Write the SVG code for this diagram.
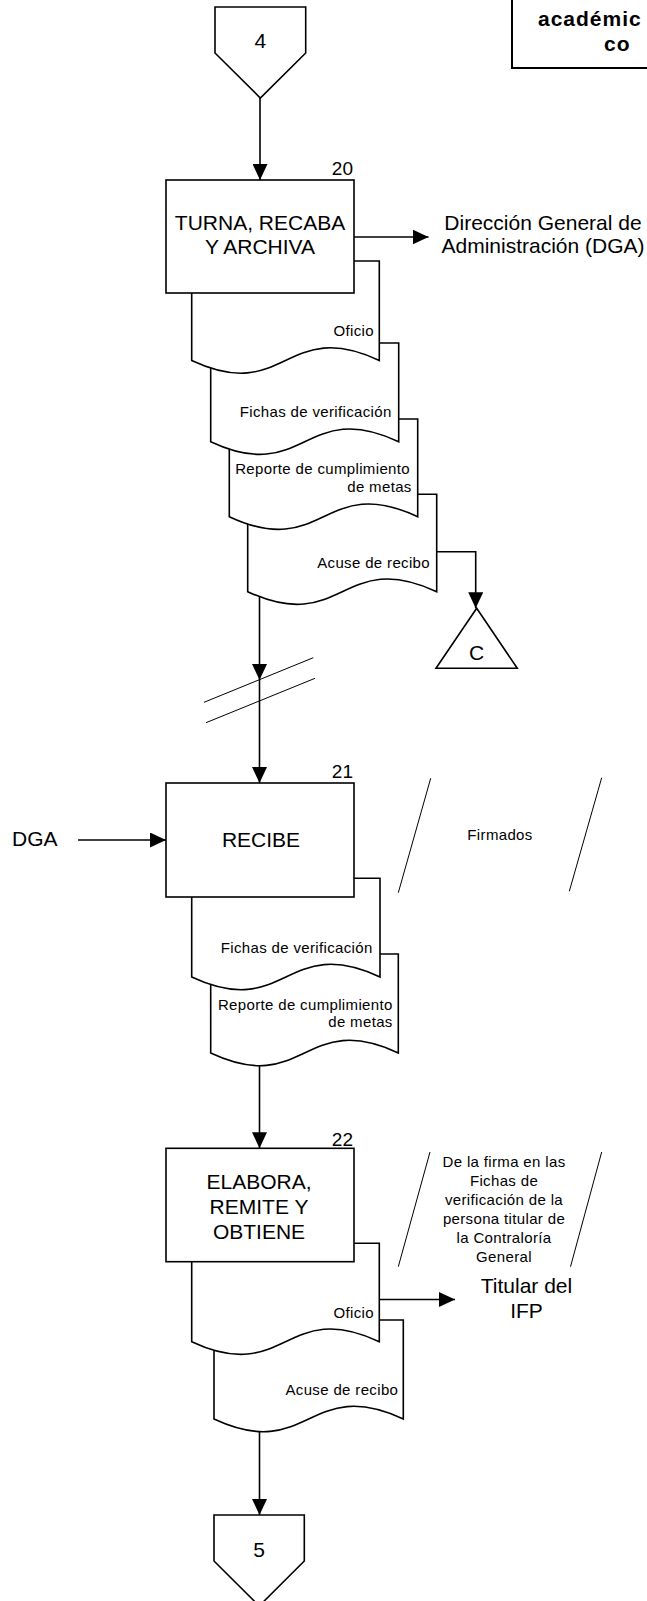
<svg xmlns="http://www.w3.org/2000/svg" width="647" height="1601" viewBox="0 0 647 1601">
<defs>
<style>
.ln{fill:none;stroke:#000;stroke-width:1.6}
.thin{fill:none;stroke:#000;stroke-width:1}
.shp{fill:#fff;stroke:#000;stroke-width:1.6}
.big{font-family:"Liberation Sans",Arial,sans-serif;font-size:21px;fill:#000}
.num{font-family:"Liberation Sans",Arial,sans-serif;font-size:19px;fill:#000}
.sm{font-family:"Liberation Sans",Arial,sans-serif;font-size:15px;letter-spacing:0.35px;fill:#000}
.hd{font-family:"Liberation Sans",Arial,sans-serif;font-size:21px;font-weight:bold;letter-spacing:1px;fill:#000}
.mid{text-anchor:middle}
.end{text-anchor:end}
</style>
<marker id="arr" markerUnits="userSpaceOnUse" markerWidth="16" markerHeight="15" refX="16" refY="7.5" orient="auto">
<path d="M0,0 L16,7.5 L0,15 Z" fill="#000"/>
</marker>
</defs>
<rect width="647" height="1601" fill="#fff"/>

<g id="header">
<rect x="512" y="-10" width="200" height="78" fill="#fff" stroke="#000" stroke-width="2"/>
<text class="hd" x="538" y="26">académic</text>
<text class="hd" x="604" y="51">co</text>
</g>

<g id="connectors">
<path class="ln" d="M260,98 V180" marker-end="url(#arr)"/>
<path class="ln" d="M354,237 H428.5" marker-end="url(#arr)"/>
<path class="ln" d="M259.5,590 V680" marker-end="url(#arr)"/>
<path class="ln" d="M436.7,551.7 H475.7 V608.3" marker-end="url(#arr)"/>
<path class="ln" d="M259.5,680 V783" marker-end="url(#arr)"/>
<path class="ln" d="M78,840 H166" marker-end="url(#arr)"/>
<path class="ln" d="M259.5,1050 V1148.3" marker-end="url(#arr)"/>
<path class="ln" d="M379.3,1299.5 H455" marker-end="url(#arr)"/>
<path class="ln" d="M259.5,1415 V1515" marker-end="url(#arr)"/>
</g>

<g id="break">
<path class="thin" stroke-width="1.3" d="M204,702.3 L313.3,657.7 M206,722.7 L315,678.3"/>
</g>

<g id="offpage-4">
<polygon class="shp" points="215,7 305.7,7 305.7,53 260.3,98 215,53"/>
<text class="big mid" x="260.3" y="48">4</text>
</g>

<g id="doc-20-acuse">
<path class="shp" d="M247.7,494.3 H436.7 V591.7 C342.2,547.7 342.2,635.7 247.7,591.7 Z"/>
<text class="sm end" x="430" y="568.3">Acuse de recibo</text>
</g>
<g id="doc-20-reporte">
<path class="shp" d="M229.3,419 H417.7 V516.7 C323.5,472.7 323.5,560.7 229.3,516.7 Z"/>
<text class="sm end" x="410" y="474">Reporte de cumplimiento</text>
<text class="sm end" x="411.7" y="491.7">de metas</text>
</g>
<g id="doc-20-fichas">
<path class="shp" d="M210.7,343 H398.7 V441.7 C304.7,397.7 304.7,485.7 210.7,441.7 Z"/>
<text class="sm end" x="391.7" y="416.7">Fichas de verificación</text>
</g>
<g id="doc-20-oficio">
<path class="shp" d="M191.7,261 H379.3 V360.5 C285.5,316.5 285.5,404.5 191.7,360.5 Z"/>
<text class="sm end" x="374" y="336">Oficio</text>
</g>
<g id="step-20">
<rect class="shp" x="166" y="180" width="188" height="113"/>
<text class="num end" x="353" y="175">20</text>
<text class="big mid" x="260" y="230">TURNA, RECABA</text>
<text class="big mid" x="260" y="254">Y ARCHIVA</text>
</g>
<g id="dga-out">
<text class="big mid" x="543" y="230">Dirección General de</text>
<text class="big mid" x="543" y="253.3">Administración (DGA)</text>
</g>
<g id="connector-C">
<polygon class="shp" points="476.7,608.3 517.3,668.3 436,668.3"/>
<text class="big mid" x="476.7" y="660">C</text>
</g>

<g id="dga-in">
<text class="big" x="12" y="846">DGA</text>
</g>
<g id="doc-21-reporte">
<path class="shp" d="M210.7,954 H398.3 V1053 C304.5,1009 304.5,1097 210.7,1053 Z"/>
<text class="sm end" x="392.7" y="1010">Reporte de cumplimiento</text>
<text class="sm end" x="392.7" y="1027.3">de metas</text>
</g>
<g id="doc-21-fichas">
<path class="shp" d="M191.7,878.3 H380 V977 C285.9,933 285.9,1021 191.7,977 Z"/>
<text class="sm end" x="372.7" y="952.7">Fichas de verificación</text>
</g>
<g id="step-21">
<rect class="shp" x="166" y="783" width="188" height="114"/>
<text class="num end" x="353" y="778">21</text>
<text class="big mid" x="261" y="847">RECIBE</text>
</g>
<g id="note-firmados">
<path class="thin" d="M430.7,778.3 L398.3,892.7 M601.7,777.7 L569.3,891.3"/>
<text class="sm mid" x="500" y="840">Firmados</text>
</g>

<g id="doc-22-acuse">
<path class="shp" d="M214,1320 H403.3 V1419 C308.7,1375 308.7,1463 214,1419 Z"/>
<text class="sm end" x="398.3" y="1395">Acuse de recibo</text>
</g>
<g id="doc-22-oficio">
<path class="shp" d="M191.7,1243.3 H379.3 V1341.7 C285.5,1297.7 285.5,1385.7 191.7,1341.7 Z"/>
<text class="sm end" x="374" y="1318.3">Oficio</text>
</g>
<g id="step-22">
<rect class="shp" x="166" y="1148.3" width="188" height="113.4"/>
<text class="num end" x="353" y="1146">22</text>
<text class="big mid" x="259" y="1189">ELABORA,</text>
<text class="big mid" x="259" y="1214">REMITE Y</text>
<text class="big mid" x="259" y="1239">OBTIENE</text>
</g>
<g id="note-firma">
<path class="thin" d="M430,1152 L398.3,1266.7 M601.7,1152 L570.5,1266.7"/>
<text class="sm mid" x="504" y="1166.7">De la firma en las</text>
<text class="sm mid" x="504" y="1186">Fichas de</text>
<text class="sm mid" x="504" y="1205">verificación de la</text>
<text class="sm mid" x="504" y="1224">persona titular de</text>
<text class="sm mid" x="504" y="1243.3">la Contraloría</text>
<text class="sm mid" x="504" y="1262">General</text>
</g>
<g id="titular-ifp">
<text class="big mid" x="526.5" y="1293.3">Titular del</text>
<text class="big mid" x="526.5" y="1318.3">IFP</text>
</g>
<g id="offpage-5">
<polygon class="shp" points="214,1515 304.3,1515 304.3,1561 259.2,1606 214,1561"/>
<text class="big mid" x="259.2" y="1556.7">5</text>
</g>
</svg>
